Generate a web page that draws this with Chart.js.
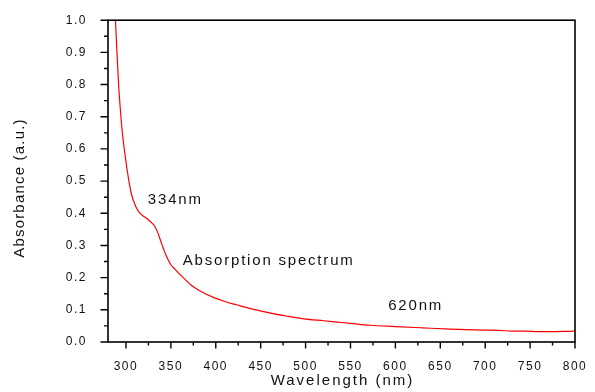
<!DOCTYPE html>
<html>
<head>
<meta charset="utf-8">
<script src="https://cdn.jsdelivr.net/npm/chart.js@4/dist/chart.umd.min.js"></script>
<style>
html,body{margin:0;padding:0;background:#fff;}
canvas{display:block;}
</style>
</head>
<body>
<canvas id="c" width="595" height="392"></canvas>
<script>
const wavelengths = [288.3,290,291.8,294.4,296,298.1,300.5,303.3,305.8,307.6,309.2,312,315,320,324,328,331.5,335,337,339,342,344.5,350,354,360,365,372,383,398,410,424,440,461,480,498,520,535,550,572,600,630,661,698,715,730,753,760,800];
const absorbance  = [1.00,0.90,0.80,0.70,0.65,0.60,0.55,0.50,0.463,0.445,0.433,0.415,0.402,0.39,0.382,0.372,0.362,0.343,0.328,0.311,0.288,0.270,0.240,0.228,0.210,0.197,0.178,0.158,0.138,0.126,0.115,0.103,0.090,0.080,0.072,0.066,0.062,0.058,0.052,0.048,0.044,0.040,0.037,0.036,0.034,0.033,0.032,0.034];
const annotationTexts = ["334nm","Absorption spectrum","620nm"];
const annotationX = [324.4,363.3,592];
const annotationY = [0.442,0.253,0.113];
const xTitle = "Wavelength (nm)";
const yTitle = "Absorbance (a.u.)";

const FONT = '"Liberation Sans", Arial, sans-serif';

const framePlugin = {
  id: 'frame',
  beforeDraw(chart){ chart.ctx.letterSpacing = '1.5px'; },
  afterDatasetsDraw(chart){
    const ctx = chart.ctx, a = chart.chartArea;
    const xs = chart.scales.x, ys = chart.scales.y;
    ctx.save();
    ctx.strokeStyle = '#000';
    ctx.lineWidth = 1.6;
    ctx.strokeRect(a.left, a.top, a.right - a.left, a.bottom - a.top);
    ctx.lineWidth = 1.4;
    ctx.beginPath();
    for (let i = 0; i < ys.ticks.length; i++) {
      const v = ys.ticks[i].value;
      const p = ys.getPixelForValue(v);
      ctx.moveTo(a.left - 7.5, p); ctx.lineTo(a.left, p);
      if (i < ys.ticks.length - 1) {
        const pm = ys.getPixelForValue((v + ys.ticks[i+1].value) / 2);
        ctx.moveTo(a.left - 4, pm); ctx.lineTo(a.left, pm);
      }
    }
    const xt = xs.ticks;
    for (let i = 0; i < xt.length; i++) {
      const v = xt[i].value;
      const p = xs.getPixelForValue(v);
      ctx.moveTo(p, a.bottom); ctx.lineTo(p, a.bottom + 6.5);
      if (i < xt.length - 1) {
        const pm = xs.getPixelForValue((v + xt[i+1].value) / 2);
        ctx.moveTo(pm, a.bottom); ctx.lineTo(pm, a.bottom + 3.5);
      }
    }
    ctx.stroke();

    ctx.fillStyle = '#111';
    ctx.font = '15px ' + FONT;
    ctx.letterSpacing = '1.8px';
    ctx.textAlign = 'left';
    ctx.textBaseline = 'middle';
    for (let i = 0; i < annotationTexts.length; i++) {
      ctx.fillText(annotationTexts[i], xs.getPixelForValue(annotationX[i]), ys.getPixelForValue(annotationY[i]));
    }
    ctx.textAlign = 'center';
    ctx.letterSpacing = '2px';
    ctx.fillText(xTitle, (a.left + a.right) / 2 + 1, 381);
    ctx.save();
    ctx.translate(20, 188);
    ctx.rotate(-Math.PI / 2);
    ctx.letterSpacing = '1.2px';
    ctx.fillText(yTitle, 0, 0);
    ctx.restore();
    ctx.restore();
  }
};

new Chart(document.getElementById('c'), {
  type: 'line',
  data: {
    datasets: [{
      data: wavelengths.map((w, i) => ({x: w, y: absorbance[i]})),
      borderColor: '#ff0000',
      borderWidth: 1.2,
      pointRadius: 0,
      fill: false,
      cubicInterpolationMode: 'monotone'
    }]
  },
  options: {
    responsive: false,
    devicePixelRatio: 1,
    animation: false,
    layout: { padding: { top: 14, right: 20, left: 0, bottom: 0 } },
    plugins: { legend: { display: false }, tooltip: { enabled: false } },
    scales: {
      x: {
        type: 'linear',
        min: 280, max: 800,
        afterBuildTicks(scale){
          scale.ticks = [];
          for (let v = 300; v <= 800; v += 50) scale.ticks.push({value: v});
        },
        ticks: { color: '#111', font: { family: FONT, size: 12 }, padding: 9, maxRotation: 0, autoSkip: false },
        grid: { display: false },
        border: { display: false },
        afterFit(scale){ scale.height = 50; }
      },
      y: {
        type: 'linear',
        min: 0, max: 1.0,
        ticks: { stepSize: 0.1, color: '#111', font: { family: FONT, size: 12 }, padding: 13,
                 callback: v => v.toFixed(1) },
        grid: { display: false },
        border: { display: false },
        afterFit(scale){ scale.width = 108; }
      }
    }
  },
  plugins: [framePlugin]
});
</script>
</body>
</html>
